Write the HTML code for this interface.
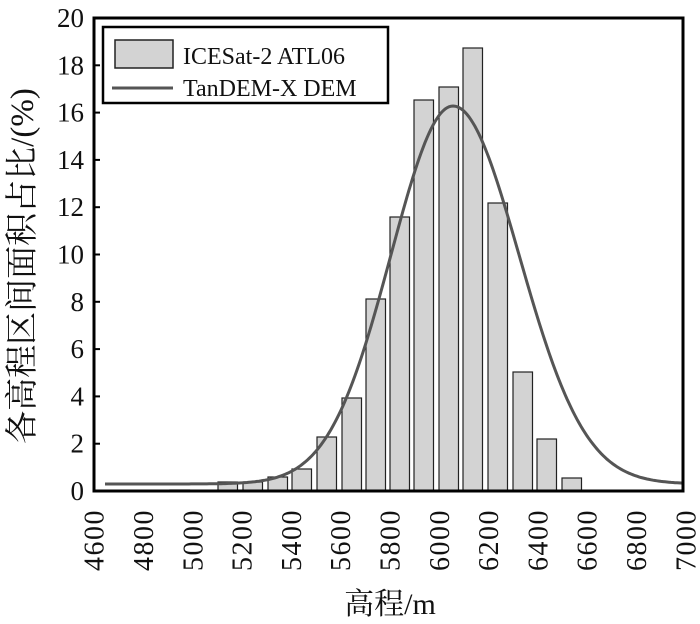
<!DOCTYPE html>
<html><head><meta charset="utf-8"><style>
body{margin:0;background:#fff;}
svg{display:block;}
text{font-family:"Liberation Serif","Noto Serif CJK SC",serif;fill:#111;}
</style></head><body>
<svg id="s" width="700" height="624" viewBox="0 0 700 624" xmlns="http://www.w3.org/2000/svg">
<g id="bars" fill="#d3d3d3" stroke="#222" stroke-width="1.2"></g>
<path id="curve" fill="none" stroke="#555" stroke-width="3"/>
<rect x="94" y="18" width="589" height="473" fill="none" stroke="#000" stroke-width="3"/>
<g id="ticks" stroke="#000" stroke-width="2"></g>
<g id="ylab" font-size="27" text-anchor="end"></g>
<g id="xlab" font-size="28" letter-spacing="1.5"></g>
<rect x="103" y="27" width="285" height="76" fill="#fff" stroke="#000" stroke-width="2.5"/>
<rect x="115" y="40" width="58" height="28" fill="#d3d3d3" stroke="#222" stroke-width="1.5"/>
<line x1="112" y1="88" x2="173" y2="88" stroke="#555" stroke-width="3"/>
<text x="183" y="64" font-size="24">ICESat-2 ATL06</text>
<text x="183" y="96" font-size="24">TanDEM-X DEM</text>
<text transform="translate(33,266) rotate(-90)" font-size="33" text-anchor="middle">各高程区间面积占比/(%)</text>
<text x="390" y="614" font-size="30" text-anchor="middle">高程/m</text>
</svg>
<script>
var ns="http://www.w3.org/2000/svg";
function el(p,t,a,txt){var e=document.createElementNS(ns,t);for(var k in a)e.setAttribute(k,a[k]);if(txt!=null)e.textContent=txt;document.getElementById(p).appendChild(e);}
var bars=[[170,490],[218,482],[243,482],[268,477],[292,469],[317,437],[342,398],[366,299],[390,217],[414,100],[439,87],[463,48],[488,203],[513,372],[537,439],[562,478]];
bars.forEach(function(b){el("bars","rect",{x:b[0],y:b[1],width:19.5,height:491-b[1]});});
var d="";for(var x=105;x<=683;x+=2){var s=(x<453?62:66);var y=484-378*Math.exp(-Math.pow(x-453,2)/(2*s*s));d+=(x==105?"M":"L")+x+" "+y.toFixed(1);}
document.getElementById("curve").setAttribute("d",d);
for(var i=0;i<=10;i++){var y=491-i*47.3;el("ticks","line",{x1:94,y1:y,x2:100,y2:y});el("ylab","text",{x:84,y:y+9},String(i*2));}
for(var i=0;i<=12;i++){var x=93.7+i*49.3;el("xlab","text",{transform:"translate("+(x+10)+",571) rotate(-90)"},String(4600+i*200));}
</script>
</body></html>
